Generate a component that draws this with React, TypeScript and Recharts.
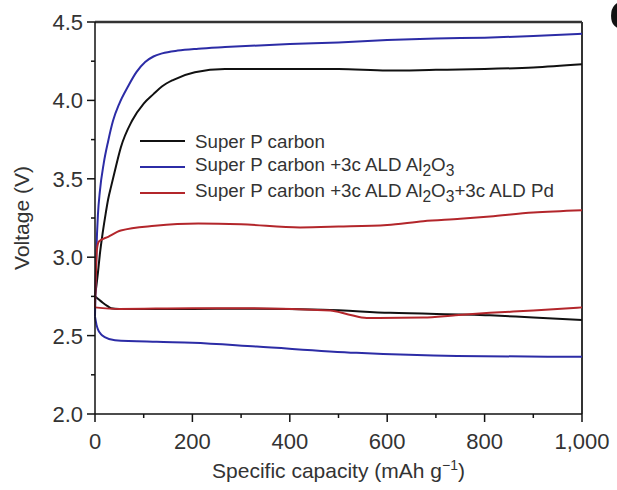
import { LineChart, Line, XAxis, YAxis, ReferenceLine } from 'recharts'

const FONT = '"Liberation Sans", Arial, sans-serif'

// capacity (mAh/g) / voltage (V) pairs
const blackCharge = [
  [0, 2.75], [3, 2.82], [6, 2.9], [10, 3.02], [16, 3.16], [22, 3.28], [27, 3.37], [33, 3.45],
  [40, 3.54], [53, 3.7], [76, 3.87], [100, 3.98], [120, 4.04], [138, 4.09], [160, 4.13],
  [205, 4.18], [267, 4.2], [400, 4.2], [500, 4.2], [600, 4.19], [700, 4.195], [800, 4.2],
  [900, 4.21], [1000, 4.23],
]
const blackDischarge = [
  [0, 2.75], [8, 2.73], [16, 2.71], [25, 2.69], [33, 2.675], [50, 2.67], [200, 2.67],
  [300, 2.672], [468, 2.665], [606, 2.645], [811, 2.63], [900, 2.615], [1000, 2.6],
]
const blueCharge = [
  [0, 2.62], [1, 2.8], [3, 3.05], [6, 3.27], [10, 3.42], [18, 3.6], [27, 3.74], [37, 3.87],
  [50, 3.98], [68, 4.09], [85, 4.18], [103, 4.245], [120, 4.28], [138, 4.3], [170, 4.318],
  [212, 4.33], [267, 4.34], [400, 4.36], [500, 4.37], [600, 4.385], [700, 4.395], [800, 4.4],
  [900, 4.41], [1000, 4.425],
]
const blueDischarge = [
  [0, 2.62], [3, 2.57], [6, 2.54], [12, 2.51], [20, 2.49], [41, 2.47], [127, 2.46],
  [200, 2.455], [332, 2.43], [537, 2.39], [743, 2.37], [1000, 2.365],
]
const redCharge = [
  [0, 2.68], [2, 2.9], [4, 3.05], [8, 3.1], [27, 3.13], [53, 3.17], [123, 3.2], [212, 3.215],
  [300, 3.21], [421, 3.19], [500, 3.195], [600, 3.205], [674, 3.23], [750, 3.245],
  [811, 3.26], [900, 3.285], [1000, 3.3],
]
const redDischarge = [
  [0, 2.68], [50, 2.67], [200, 2.675], [300, 2.675], [483, 2.66], [520, 2.635], [558, 2.612],
  [674, 2.615], [740, 2.63], [811, 2.645], [900, 2.66], [1000, 2.68],
]

const xTicks = [0, 100, 200, 300, 400, 500, 600, 700, 800, 900, 1000]
const yTicks = [2, 2.25, 2.5, 2.75, 3, 3.25, 3.5, 3.75, 4, 4.25, 4.5]

const SERIES = [
  { key: 'black', color: '#111111', curves: [blackCharge, blackDischarge] },
  { key: 'blue', color: '#2c2ca6', curves: [blueCharge, blueDischarge] },
  { key: 'red', color: '#b3262b', curves: [redCharge, redDischarge] },
]

const toRows = (pts: number[][]) => pts.map(([c, v]) => ({ c, v }))

const XTick = ({ x, y, payload }: any) => {
  const major = payload.value % 200 === 0
  return (
    <g>
      <line x1={x} x2={x} y1={y} y2={y + (major ? 8 : 4)} stroke="#111" strokeWidth={1.5} />
      {major && (
        <text x={x} y={y + 35} textAnchor="middle" fontSize={22} fontFamily={FONT} fill="#333">
          {payload.value.toLocaleString('en-US')}
        </text>
      )}
    </g>
  )
}

const YTick = ({ x, y, payload }: any) => {
  const major = Math.abs(payload.value * 2 - Math.round(payload.value * 2)) < 1e-6
  return (
    <g>
      <line x1={x - (major ? 8 : 4)} x2={x} y1={y} y2={y} stroke="#111" strokeWidth={1.5} />
      {major && (
        <text x={x - 12} y={y + 8} textAnchor="end" fontSize={22} fontFamily={FONT} fill="#333">
          {payload.value.toFixed(1)}
        </text>
      )}
    </g>
  )
}

const XTitle = ({ viewBox }: any) => (
  <text x={viewBox.x + viewBox.width / 2} y={viewBox.y + viewBox.height - 12} textAnchor="middle"
    fontSize={21} fontFamily={FONT} fill="#333">
    Specific capacity (mAh g<tspan dy={-8} fontSize={14}>−1</tspan><tspan dy={8}>)</tspan>
  </text>
)

const YTitle = ({ viewBox }: any) => {
  const cx = 23
  const cy = viewBox.y + viewBox.height / 2
  return (
    <text x={cx} y={cy} transform={`rotate(-90 ${cx} ${cy})`} textAnchor="middle" dominantBaseline="middle"
      fontSize={21} fontFamily={FONT} fill="#333">
      Voltage (V)
    </text>
  )
}

const legendLabels = [
  <>Super P carbon</>,
  <>Super P carbon +3c ALD Al<sub>2</sub>O<sub>3</sub></>,
  <>Super P carbon +3c ALD Al<sub>2</sub>O<sub>3</sub>+3c ALD Pd</>,
]

export default function App() {
  return (
    <div style={{ position: 'absolute', left: 0, top: 0, width: 617, height: 490, overflow: 'hidden', background: '#fff' }}>
      <LineChart width={617} height={490} margin={{ top: 22, right: 35, left: 0, bottom: 0 }}>
        <XAxis dataKey="c" type="number" domain={[0, 1000]} ticks={xTicks} interval={0} height={76}
          tickSize={0} tickMargin={0} tickLine={false} tick={<XTick />}
          axisLine={{ stroke: '#111', strokeWidth: 1.5 }} label={XTitle} />
        <YAxis type="number" domain={[2, 4.5]} ticks={yTicks} interval={0} width={95}
          tickSize={0} tickMargin={0} tickLine={false} tick={<YTick />}
          axisLine={{ stroke: '#111', strokeWidth: 1.5 }} label={YTitle} />
        <ReferenceLine y={4.5} stroke="#333" strokeWidth={2.5} />
        <ReferenceLine x={1000} stroke="#333" strokeWidth={2} />
        {SERIES.flatMap((s) =>
          s.curves.map((pts, i) => (
            <Line key={`${s.key}-${i}`} data={toRows(pts)} dataKey="v" type="monotone"
              stroke={s.color} strokeWidth={2} dot={false} isAnimationActive={false} />
          ))
        )}
      </LineChart>
      <div style={{ position: 'absolute', left: 140, top: 128, fontFamily: FONT, fontSize: 18.75, color: '#333' }}>
        {SERIES.map((s, i) => (
          <div key={s.key} style={{ display: 'flex', alignItems: 'center', height: 26, whiteSpace: 'nowrap' }}>
            <span style={{ display: 'inline-block', width: 45, height: 2.5, background: s.color, marginRight: 10 }} />
            <span style={{ lineHeight: '19px' }}>{legendLabels[i]}</span>
          </div>
        ))}
      </div>
      <div style={{ position: 'absolute', left: 609, top: -15, fontFamily: FONT, fontSize: 52, lineHeight: 1, fontWeight: 'bold', color: '#111' }}>
        c
      </div>
    </div>
  )
}
